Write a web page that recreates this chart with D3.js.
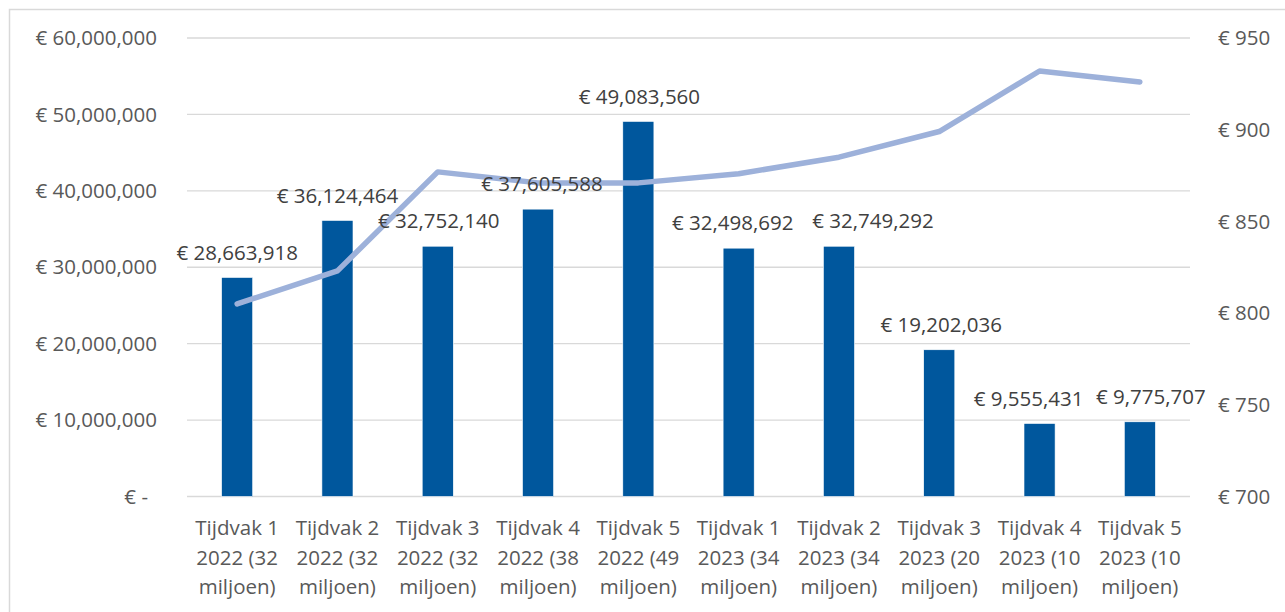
<!DOCTYPE html>
<html>
<head>
<meta charset="utf-8">
<script src="https://cdn.jsdelivr.net/npm/d3@7"></script>
<style>
  body { margin: 0; background: #fff; }
  svg { font-family: "Open Sans", sans-serif; }
</style>
</head>
<body>
<svg width="1285" height="612"></svg>
<script>
// periods (x axis, three lines each)
var periods = [
  ["Tijdvak 1", "2022 (32", "miljoen)"],
  ["Tijdvak 2", "2022 (32", "miljoen)"],
  ["Tijdvak 3", "2022 (32", "miljoen)"],
  ["Tijdvak 4", "2022 (38", "miljoen)"],
  ["Tijdvak 5", "2022 (49", "miljoen)"],
  ["Tijdvak 1", "2023 (34", "miljoen)"],
  ["Tijdvak 2", "2023 (34", "miljoen)"],
  ["Tijdvak 3", "2023 (20", "miljoen)"],
  ["Tijdvak 4", "2023 (10", "miljoen)"],
  ["Tijdvak 5", "2023 (10", "miljoen)"]
];
// bar series (left axis)
var amounts = [28663918, 36124464, 32752140, 37605588, 49083560,
               32498692, 32749292, 19202036, 9555431, 9775707];
// line series (right axis)
var perPerson = [805, 823, 877, 871, 871, 876, 885, 899, 932, 926];
var leftTicks = [0, 10000000, 20000000, 30000000, 40000000, 50000000, 60000000];
var rightTicks = [700, 750, 800, 850, 900, 950];

var svg = d3.select("svg"),
  plotLeft = 187, plotRight = 1190, plotTop = 38, plotBottom = 496.5;

// data labels were moved by hand in the original so they don't collide
var labelNudge = [0, 0, 1, 4, 1, -6, 34, 2, -11, 11];

// chart frame
svg.append("rect")
  .attr("x", 9.5).attr("y", 9.5)
  .attr("width", 1290).attr("height", 620)
  .attr("fill", "none").attr("stroke", "#d9d9d9").attr("stroke-width", 1.5);

var x = d3.scaleBand().domain(d3.range(periods.length)).range([plotLeft, plotRight]).paddingInner(0.69).paddingOuter(0.345),
  y = d3.scaleLinear().domain([0, 60000000]).range([plotBottom, plotTop]),
  y2 = d3.scaleLinear().domain([700, 950]).range([plotBottom, plotTop]);

var fmt = d3.format(",");

// gridlines
svg.append("g").selectAll("line").data(leftTicks).join("line")
  .attr("x1", plotLeft).attr("x2", plotRight)
  .attr("y1", d => y(d)).attr("y2", d => y(d))
  .attr("stroke", "#d9d9d9").attr("stroke-width", 1.3);

// left axis labels
svg.append("g").selectAll("text").data(leftTicks).join("text")
  .attr("x", d => d === 0 ? 148 : 157)
  .attr("y", d => y(d))
  .attr("dy", "0.35em")
  .attr("text-anchor", "end")
  .attr("font-size", 20.5)
  .attr("fill", "#595959")
  .text(d => d === 0 ? "€ -" : "€ " + fmt(d));

// right axis labels
svg.append("g").selectAll("text").data(rightTicks).join("text")
  .attr("x", 1218)
  .attr("y", d => y2(d))
  .attr("dy", "0.35em")
  .attr("font-size", 20.5)
  .attr("fill", "#595959")
  .text(d => "€ " + d);

// bars
svg.append("g").selectAll("rect").data(amounts).join("rect")
  .attr("x", (d, i) => x(i))
  .attr("y", d => y(d))
  .attr("width", x.bandwidth())
  .attr("height", d => plotBottom - y(d))
  .attr("fill", "#00579d")
  .attr("stroke", "#ffffff").attr("stroke-width", 0.6);

// line
var line = d3.line()
  .x((d, i) => x(i) + x.bandwidth() / 2)
  .y(d => y2(d));
svg.append("path")
  .datum(perPerson)
  .attr("d", line)
  .attr("fill", "none")
  .attr("stroke", "#9db1da")
  .attr("stroke-width", 5.5)
  .attr("stroke-linecap", "round")
  .attr("stroke-linejoin", "round");

// data labels
svg.append("g").selectAll("text").data(amounts).join("text")
  .attr("x", (d, i) => x(i) + x.bandwidth() / 2 + labelNudge[i])
  .attr("y", d => y(d) - 25)
  .attr("dy", "0.35em")
  .attr("text-anchor", "middle")
  .attr("font-size", 20.5)
  .attr("fill", "#404040")
  .text(d => "€ " + fmt(d));

// category labels
var cat = svg.append("g").selectAll("text").data(periods).join("text")
  .attr("text-anchor", "middle")
  .attr("font-size", 20.5)
  .attr("fill", "#595959");
cat.each(function(p, i) {
  d3.select(this).selectAll("tspan").data(p).join("tspan")
    .attr("x", x(i) + x.bandwidth() / 2)
    .attr("y", (d, j) => 528 + j * 29.5)
    .attr("dy", "0.35em")
    .text(d => d);
});
</script>
</body>
</html>
